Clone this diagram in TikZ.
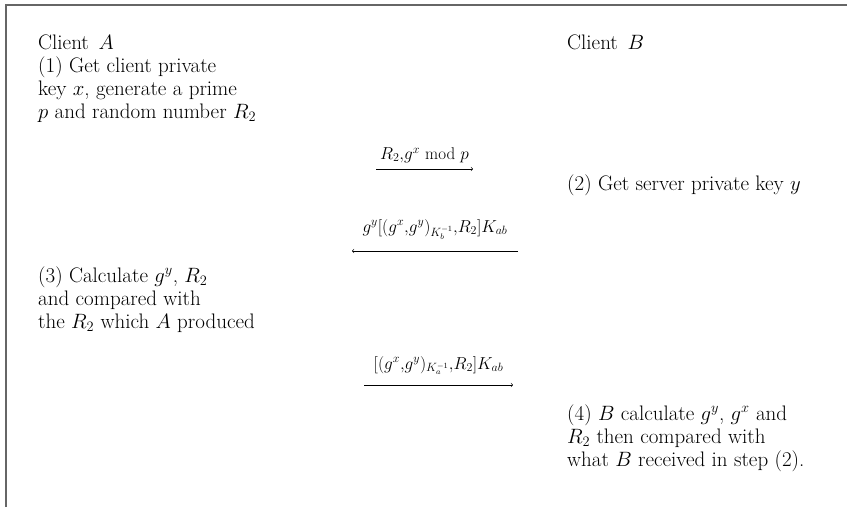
\documentclass[tikz,border=0pt]{standalone}
\usepackage{amsmath}
\usetikzlibrary{positioning}

\tikzset{
  party/.style={anchor=base west, inner sep=0pt, align=left,
    font=\fontsize{21}{23}\selectfont},
  msg/.style={->, line width=0.6pt},
  msglabel/.style={font=\fontsize{17}{19}\selectfont, inner sep=0pt}
}

\begin{document}
\begin{tikzpicture}[x=1pt, y=-1pt]
    \useasboundingbox (0,0) rectangle (847,507);

    % Frame (top and left edge)
    \draw[line width=1.3pt, black!60] (6,507) -- (6,5) -- (847,5);

    % Client A side (base = last line)
    \node[party] (clientA) at (38,118) {Client\, $A$\\(1) Get client private\\key $x$, generate a prime\\$p$ and random number $R_2$};
    \node[party] (stepA3) at (38,328) {(3) Calculate $g^y$, $R_2$\\and compared with\\the $R_2$ which $A$ produced};

    % Client B side
    \node[party] (clientB) at (567,49) {Client\, $B$};
    \node[party] (stepB2) at (567,190) {(2) Get server private key $y$};
    \node[party] (stepB4) at (567,466) {(4) $B$ calculate $g^y$, $g^x$ and\\$R_2$ then compared with\\what $B$ received in step (2).};

    % Message ends
    \coordinate (m1a) at (376,169);
    \coordinate (m1b) at (473,169);
    \coordinate (m2a) at (518,251);
    \coordinate (m2b) at (352,251);
    \coordinate (m3a) at (364,385);
    \coordinate (m3b) at (513,385);

    % Messages
    \draw[msg] (m1a) -- (m1b) node[msglabel, midway, above=6pt] (lab1) {$R_2{,}g^x$ mod $p$};
    \draw[msg] (m2a) -- (m2b) node[msglabel, midway, above=11pt] (lab2) {$g^y[(g^x{,}g^y)_{K_b^{-1}}{,}R_2]K_{ab}$};
    \draw[msg] (m3a) -- (m3b) node[msglabel, midway, above=10pt] (lab3) {$[(g^x{,}g^y)_{K_a^{-1}}{,}R_2]K_{ab}$};
\end{tikzpicture}
\end{document}
